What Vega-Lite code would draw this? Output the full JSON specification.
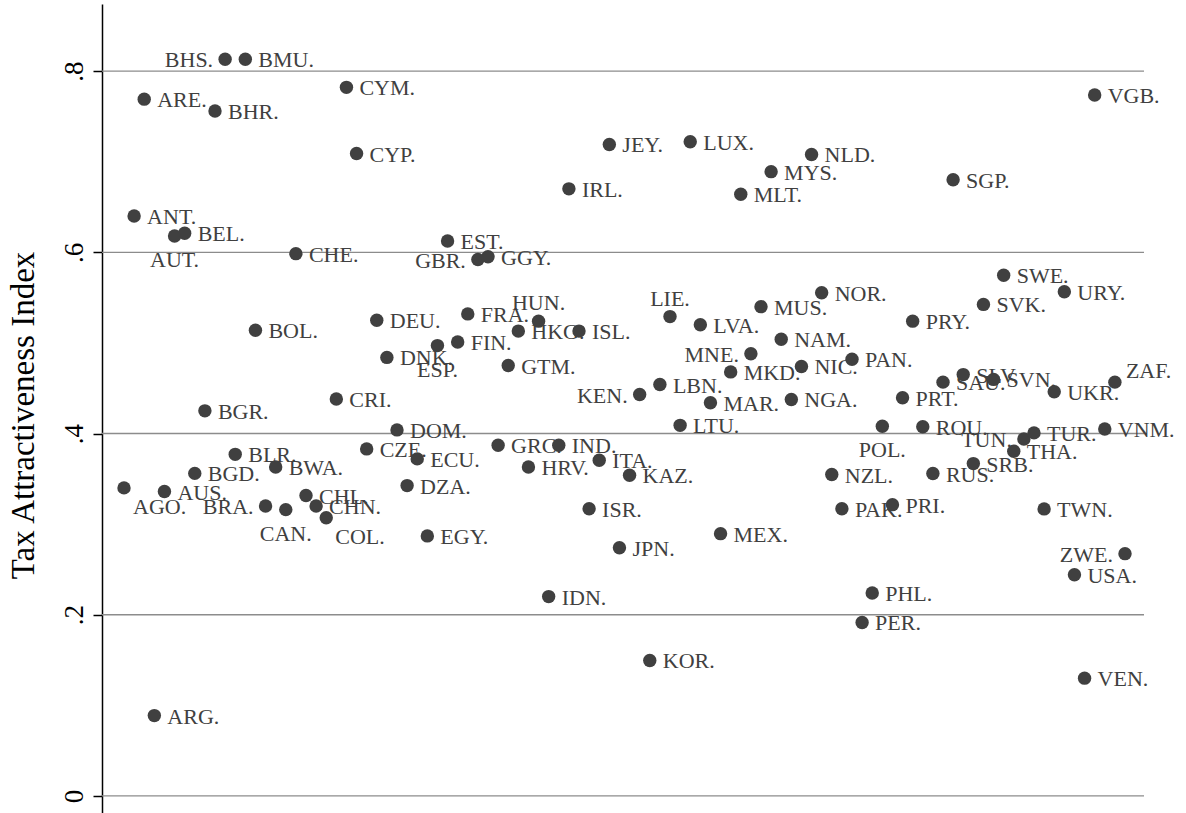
{
  "$schema": "https://vega.github.io/schema/vega-lite/v6.json",
  "width": 1042,
  "height": 809,
  "autosize": {"type": "none"},
  "padding": {"left": 102, "top": 4, "right": 42, "bottom": 0},
  "background": "white",
  "config": {"view": {"stroke": null}, "font": "Liberation Serif"},
  "datasets": {
    "gridlines": [{"g": 0}, {"g": 0.2}, {"g": 0.4}, {"g": 0.6}, {"g": 0.8}],
    "countries": [
    {"country": "AGO.", "tai": 0.340, "pos": 4},
    {"country": "ANT.", "tai": 0.640, "pos": 3},
    {"country": "ARE.", "tai": 0.769, "pos": 3},
    {"country": "ARG.", "tai": 0.0887, "pos": 3},
    {"country": "AUS.", "tai": 0.336, "pos": 3},
    {"country": "AUT.", "tai": 0.618, "pos": 6},
    {"country": "BEL.", "tai": 0.621, "pos": 3},
    {"country": "BGD.", "tai": 0.356, "pos": 3},
    {"country": "BGR.", "tai": 0.425, "pos": 3},
    {"country": "BHR.", "tai": 0.756, "pos": 3},
    {"country": "BHS.", "tai": 0.813, "pos": 9},
    {"country": "BLR.", "tai": 0.377, "pos": 3},
    {"country": "BMU.", "tai": 0.813, "pos": 3},
    {"country": "BOL.", "tai": 0.514, "pos": 3},
    {"country": "BRA.", "tai": 0.320, "pos": 9},
    {"country": "BWA.", "tai": 0.363, "pos": 3},
    {"country": "CAN.", "tai": 0.316, "pos": 6},
    {"country": "CHE.", "tai": 0.5985, "pos": 3},
    {"country": "CHL.", "tai": 0.3315, "pos": 3},
    {"country": "CHN.", "tai": 0.320, "pos": 3},
    {"country": "COL.", "tai": 0.307, "pos": 4},
    {"country": "CRI.", "tai": 0.438, "pos": 3},
    {"country": "CYM.", "tai": 0.782, "pos": 3},
    {"country": "CYP.", "tai": 0.709, "pos": 3},
    {"country": "CZE.", "tai": 0.383, "pos": 3},
    {"country": "DEU.", "tai": 0.525, "pos": 3},
    {"country": "DNK.", "tai": 0.484, "pos": 3},
    {"country": "DOM.", "tai": 0.404, "pos": 3},
    {"country": "DZA.", "tai": 0.3425, "pos": 3},
    {"country": "ECU.", "tai": 0.372, "pos": 3},
    {"country": "EGY.", "tai": 0.287, "pos": 3},
    {"country": "ESP.", "tai": 0.497, "pos": 6},
    {"country": "EST.", "tai": 0.6125, "pos": 3},
    {"country": "FIN.", "tai": 0.501, "pos": 3},
    {"country": "FRA.", "tai": 0.532, "pos": 3},
    {"country": "GBR.", "tai": 0.592, "pos": 9},
    {"country": "GGY.", "tai": 0.595, "pos": 3},
    {"country": "GRC.", "tai": 0.387, "pos": 3},
    {"country": "GTM.", "tai": 0.475, "pos": 3},
    {"country": "HKG.", "tai": 0.513, "pos": 3},
    {"country": "HRV.", "tai": 0.363, "pos": 3},
    {"country": "HUN.", "tai": 0.524, "pos": 12},
    {"country": "IDN.", "tai": 0.220, "pos": 3},
    {"country": "IND.", "tai": 0.387, "pos": 3},
    {"country": "IRL.", "tai": 0.670, "pos": 3},
    {"country": "ISL.", "tai": 0.513, "pos": 3},
    {"country": "ISR.", "tai": 0.317, "pos": 3},
    {"country": "ITA.", "tai": 0.3705, "pos": 3},
    {"country": "JEY.", "tai": 0.719, "pos": 3},
    {"country": "JPN.", "tai": 0.274, "pos": 3},
    {"country": "KAZ.", "tai": 0.354, "pos": 3},
    {"country": "KEN.", "tai": 0.443, "pos": 9},
    {"country": "KOR.", "tai": 0.1495, "pos": 3},
    {"country": "LBN.", "tai": 0.454, "pos": 3},
    {"country": "LIE.", "tai": 0.529, "pos": 12},
    {"country": "LTU.", "tai": 0.409, "pos": 3},
    {"country": "LUX.", "tai": 0.722, "pos": 3},
    {"country": "LVA.", "tai": 0.520, "pos": 3},
    {"country": "MAR.", "tai": 0.434, "pos": 3},
    {"country": "MEX.", "tai": 0.2895, "pos": 3},
    {"country": "MKD.", "tai": 0.468, "pos": 3},
    {"country": "MLT.", "tai": 0.664, "pos": 3},
    {"country": "MNE.", "tai": 0.488, "pos": 9},
    {"country": "MUS.", "tai": 0.540, "pos": 3},
    {"country": "MYS.", "tai": 0.689, "pos": 3},
    {"country": "NAM.", "tai": 0.504, "pos": 3},
    {"country": "NGA.", "tai": 0.4376, "pos": 3},
    {"country": "NIC.", "tai": 0.474, "pos": 3},
    {"country": "NLD.", "tai": 0.708, "pos": 3},
    {"country": "NOR.", "tai": 0.5554, "pos": 3},
    {"country": "NZL.", "tai": 0.3547, "pos": 3},
    {"country": "PAK.", "tai": 0.317, "pos": 3},
    {"country": "PAN.", "tai": 0.482, "pos": 3},
    {"country": "PER.", "tai": 0.1915, "pos": 3},
    {"country": "PHL.", "tai": 0.224, "pos": 3},
    {"country": "POL.", "tai": 0.408, "pos": 6},
    {"country": "PRI.", "tai": 0.3215, "pos": 3},
    {"country": "PRT.", "tai": 0.4394, "pos": 3},
    {"country": "PRY.", "tai": 0.524, "pos": 3},
    {"country": "ROU.", "tai": 0.4074, "pos": 3},
    {"country": "RUS.", "tai": 0.3558, "pos": 3},
    {"country": "SAU.", "tai": 0.4567, "pos": 3},
    {"country": "SGP.", "tai": 0.680, "pos": 3},
    {"country": "SLV.", "tai": 0.465, "pos": 3},
    {"country": "SRB.", "tai": 0.3668, "pos": 3},
    {"country": "SVK.", "tai": 0.5425, "pos": 3},
    {"country": "SVN.", "tai": 0.4597, "pos": 3},
    {"country": "SWE.", "tai": 0.5746, "pos": 3},
    {"country": "THA.", "tai": 0.3805, "pos": 3},
    {"country": "TUN.", "tai": 0.394, "pos": 9},
    {"country": "TUR.", "tai": 0.4007, "pos": 3},
    {"country": "TWN.", "tai": 0.3168, "pos": 3},
    {"country": "UKR.", "tai": 0.446, "pos": 3},
    {"country": "URY.", "tai": 0.5565, "pos": 3},
    {"country": "USA.", "tai": 0.2442, "pos": 3},
    {"country": "VEN.", "tai": 0.130, "pos": 3},
    {"country": "VGB.", "tai": 0.7735, "pos": 3},
    {"country": "VNM.", "tai": 0.405, "pos": 3},
    {"country": "ZAF.", "tai": 0.4567, "pos": 2},
    {"country": "ZWE.", "tai": 0.2674, "pos": 9}
    ]
  },
  "layer": [
    {
      "data": {"name": "gridlines"},
      "mark": {"type": "rule", "color": "#8c8c8c", "strokeWidth": 1.3},
      "encoding": {
        "y": {
          "field": "g", "type": "quantitative",
          "scale": {"domain": [-0.0188, 0.874], "nice": false, "zero": false},
          "axis": {
            "title": "Tax Attractiveness Index",
            "values": [0, 0.2, 0.4, 0.6, 0.8],
            "labelExpr": "datum.value == 0 ? '0' : replace(format(datum.value, '.1f'), '0.', '.')",
            "labelAngle": 270,
            "labelAlign": "center",
            "labelBaseline": "alphabetic",
            "labelPadding": 11,
            "labelFontSize": 27,
            "labelFont": "Liberation Serif",
            "labelColor": "#000000",
            "tickSize": 9,
            "tickColor": "#000000",
            "tickWidth": 1.5,
            "domainColor": "#000000",
            "domainWidth": 1.5,
            "grid": false,
            "titleFont": "Liberation Serif",
            "titleFontSize": 33,
            "titleFontWeight": "normal",
            "titleColor": "#000000",
            "titleAngle": 270,
            "titleAlign": "center",
            "titleBaseline": "middle",
            "titleX": -79,
            "titleY": 411
          }
        }
      }
    },
    {
      "data": {"name": "countries"},
      "encoding": {
        "x": {
          "field": "country", "type": "nominal", "sort": "ascending",
          "scale": {"type": "point", "padding": 0, "range": [22, 1023]},
          "axis": null
        },
        "y": {"field": "tai", "type": "quantitative", "title": "Tax Attractiveness Index"},
        "text": {"field": "country"}
      },
      "layer": [
        {
          "transform": [{"filter": "datum.pos == 3"}],
          "mark": {"type": "text", "align": "left", "baseline": "alphabetic", "dx": 13, "dy": 8, "fontSize": 22, "font": "Liberation Serif", "color": "#404040"}
        },
        {
          "transform": [{"filter": "datum.pos == 9"}],
          "mark": {"type": "text", "align": "right", "baseline": "alphabetic", "dx": -12, "dy": 8, "fontSize": 22, "font": "Liberation Serif", "color": "#404040"}
        },
        {
          "transform": [{"filter": "datum.pos == 6"}],
          "mark": {"type": "text", "align": "center", "baseline": "alphabetic", "dx": 0, "dy": 31, "fontSize": 22, "font": "Liberation Serif", "color": "#404040"}
        },
        {
          "transform": [{"filter": "datum.pos == 12"}],
          "mark": {"type": "text", "align": "center", "baseline": "alphabetic", "dx": 0, "dy": -11, "fontSize": 22, "font": "Liberation Serif", "color": "#404040"}
        },
        {
          "transform": [{"filter": "datum.pos == 4"}],
          "mark": {"type": "text", "align": "left", "baseline": "alphabetic", "dx": 9, "dy": 26, "fontSize": 22, "font": "Liberation Serif", "color": "#404040"}
        },
        {
          "transform": [{"filter": "datum.pos == 2"}],
          "mark": {"type": "text", "align": "left", "baseline": "alphabetic", "dx": 11, "dy": -4, "fontSize": 22, "font": "Liberation Serif", "color": "#404040"}
        },
        {
          "mark": {"type": "point", "filled": true, "shape": "circle", "size": 180, "color": "#404040", "opacity": 1}
        }
      ]
    }
  ]
}
